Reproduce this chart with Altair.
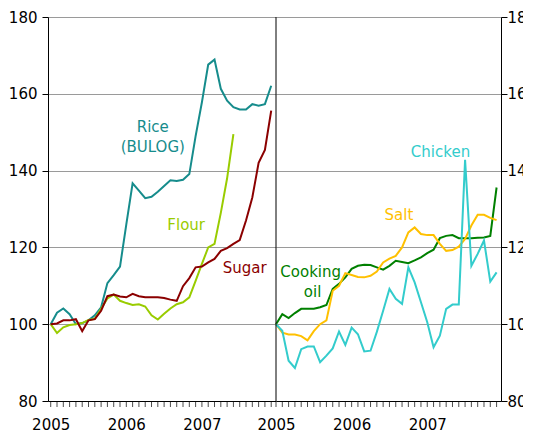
import altair as alt
import pandas as pd

# ---- data (monthly index, Jan 2005 = 0) ----
year_ticks = [0, 12, 24]          # 2005, 2006, 2007
month_ticks = list(range(36))

rice = [100, 103, 104.1, 102.6, 100, 100.3, 101, 102.3, 104.4, 110.7, 112.8, 115,
        126, 136.7, 134.8, 132.8, 133.2, 134.5, 136, 137.5, 137.3, 137.6, 139.1, 149,
        157.8, 167.6, 168.9, 161.3, 158.2, 156.5, 155.9, 155.9, 157.3, 156.9, 157.3, 162.1]
flour = [100, 97.7, 99.2, 99.8, 100, 100.3, 101.1, 101.4, 104, 106.7, 107.7, 106.1,
         105.5, 105, 105.2, 104.6, 102.3, 101.2, 102.7, 104.1, 105.2, 105.7, 107, 111.3,
         115.7, 120, 120.9, 129, 138, 149.5]
sugar = [100, 100.2, 101, 101, 101.3, 98.2, 101, 101.3, 103.5, 107.3, 107.7, 107.2,
         107, 107.9, 107.3, 107, 107, 107, 106.8, 106.4, 106.1, 109.9, 112, 114.8,
         115, 116.1, 117, 119.1, 119.8, 120.9, 121.9, 127, 133, 142, 145.4, 155.6]
cooking_oil = [100, 102.6, 101.6, 102.9, 104, 104, 104, 104.4, 105, 109.2, 110.5, 112.2,
               114.4, 115.2, 115.5, 115.4, 114.8, 114.2, 115.2, 116.5, 116.2, 115.9, 116.6, 117.4,
               118.5, 119.4, 122.4, 123, 123.2, 122.4, 122.4, 122.4, 122.5, 122.6, 123, 135.6]
salt = [100, 97.8, 97.3, 97.3, 96.9, 95.8, 98.2, 100, 101, 108.7, 110, 113.3,
        112.8, 112.3, 112.2, 112.6, 113.7, 116.1, 117.1, 117.8, 120, 123.9, 125.2, 123.5,
        123.2, 123.2, 120.9, 119.1, 119.3, 120.2, 122.2, 125.7, 128.5, 128.5, 127.7, 127.1]
chicken = [100, 98.3, 90.5, 88.6, 93.5, 94.2, 94.2, 90.1, 91.8, 93.7, 98.1, 94.6,
           99.1, 97.4, 92.9, 93.1, 98, 103.5, 109.2, 106.6, 105.3, 114.8, 110.9, 105.7,
           100.5, 94, 97, 104, 105.1, 105.1, 142.8, 115.2, 118.3, 121.8, 111.1, 113.5]

all_names = ["Rice (BULOG)", "Flour", "Sugar", "Cooking oil", "Salt", "Chicken"]
all_colors = ["#168c8c", "#99cc00", "#8b0000", "#008000", "#ffc000", "#33cccc"]

y_ticks = [80, 100, 120, 140, 160, 180]

# annotations (text, month, value, color)
left_labels = [("Rice", 16.2, 151.4, "#168c8c"), ("(BULOG)", 16.2, 146.1, "#168c8c"),
               ("Flour", 21.5, 125.8, "#99cc00"), ("Sugar", 30.8, 114.6, "#8b0000")]
right_labels = [("Cooking", 5.5, 113.6, "#008000"), ("oil", 5.8, 108.4, "#008000"),
                ("Salt", 19.5, 128.4, "#ffc000"), ("Chicken", 26.1, 144.8, "#33cccc")]

FONT = "DejaVu Sans"
H = 384


def long(names, series):
    rows = []
    for n, vals in zip(names, series):
        for i, v in enumerate(vals):
            rows.append({"month": i, "value": v, "series": n})
    return pd.DataFrame(rows)


def labels_df(labels):
    return pd.DataFrame([{"text": t, "month": m, "value": v, "color": c} for t, m, v, c in labels])


def panel(names, series, labels, domain, width, orient, divider, ypad):
    xscale = alt.Scale(domain=domain, nice=False, zero=False)
    yscale = alt.Scale(domain=[80, 180], nice=False, zero=False)

    def x_axis():
        return alt.Axis(values=year_ticks, title=None, grid=False, ticks=False, tickSize=0,
                        orient="bottom", labelPadding=16, labelOverlap=False,
                        labelFlush=False, domainColor="black",
                        labelExpr="toString(2005 + datum.value / 12)")

    def y_axis():
        return alt.Axis(values=y_ticks, orient=orient, title=None, grid=True,
                        gridColor="#9a9a9a", tickSize=6, labelPadding=ypad,
                        domainColor="black", tickColor="black")

    df = long(names, series)
    lines = alt.Chart(df).mark_line(strokeWidth=2).encode(
        x=alt.X("month:Q", scale=xscale, axis=x_axis()),
        y=alt.Y("value:Q", scale=yscale, axis=y_axis()),
        color=alt.Color("series:N", scale=alt.Scale(domain=all_names, range=all_colors),
                        legend=None),
        detail="series:N")
    # monthly tick marks below the x axis
    ticks = alt.Chart(pd.DataFrame({"month": month_ticks})).mark_tick(
        color="black", thickness=1, size=6, orient="vertical"
    ).encode(x=alt.X("month:Q", scale=xscale, axis=x_axis()), y=alt.value(H + 3))
    txt = alt.Chart(labels_df(labels)).mark_text(font=FONT, fontSize=15).encode(
        x=alt.X("month:Q", scale=xscale, axis=x_axis()),
        y=alt.Y("value:Q", scale=yscale, axis=y_axis()),
        text="text:N", color=alt.Color("color:N", scale=None))
    layers = [lines, ticks, txt]
    if divider:
        rule = alt.Chart(pd.DataFrame({"a": [0]})).mark_rule(color="black", strokeWidth=1).encode(
            x=alt.value(0), y=alt.value(0), y2=alt.value(H))
        layers.append(rule)
    return alt.layer(*layers).properties(width=width, height=H)


left = panel(["Rice (BULOG)", "Flour", "Sugar"], [rice, flour, sugar], left_labels,
             [-0.43, 35.76], 228, "left", False, 5)
right = panel(["Cooking oil", "Salt", "Chicken"], [cooking_oil, salt, chicken], right_labels,
              [0, 35.7], 225, "right", True, 0)

chart = alt.hconcat(left, right, spacing=0, bounds="flush").properties(
    padding={"left": 0, "top": 2, "right": -13, "bottom": 0}
).configure_view(stroke=None).configure_axis(
    labelFont=FONT, labelFontSize=15, labelColor="black"
)

chart.save("out.html", embed_options={"renderer": "svg", "actions": False})
